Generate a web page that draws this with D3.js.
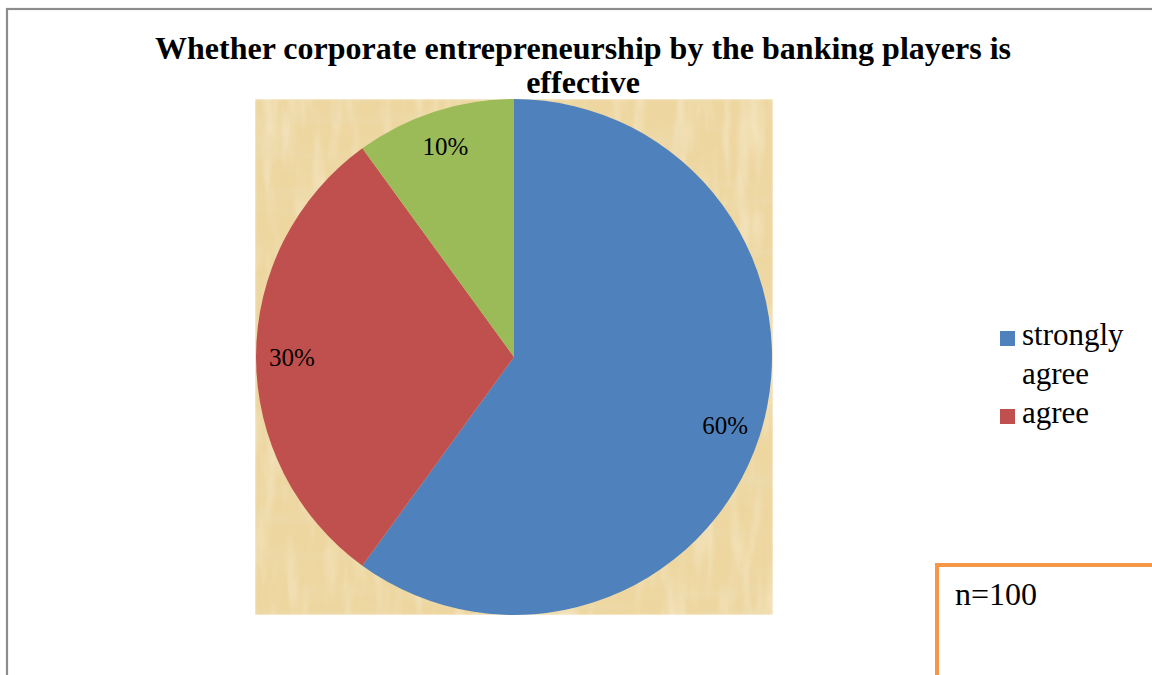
<!DOCTYPE html>
<html>
<head>
<meta charset="utf-8">
<script src="https://cdn.jsdelivr.net/npm/d3@7"></script>
<style>
  html, body { margin: 0; padding: 0; background: #fff; }
  svg { display: block; }
</style>
</head>
<body>
<script>
// ---- data ----
const categories = ["strongly agree", "agree", "disagree"];
const values = [60, 30, 10];
const labels = ["60%", "30%", "10%"];
const colors = ["#4F81BD", "#C0504D", "#9BBB59"];
const legendShown = ["strongly agree", "agree"];
const titleLines = ["Whether corporate entrepreneurship by the banking players is", "effective"];
const noteText = "n=100";

const FONT = "'Liberation Serif', 'Times New Roman', Times, serif";
const W = 1152, H = 675;
const svg = d3.select("body").append("svg").attr("width", W).attr("height", H);

// parchment texture
const defs = svg.append("defs");
const f = defs.append("filter").attr("id", "parch").attr("x", 0).attr("y", 0).attr("width", 1).attr("height", 1);
f.append("feTurbulence").attr("type", "fractalNoise").attr("baseFrequency", "0.01 0.08").attr("numOctaves", 3).attr("seed", 3).attr("result", "n1");
f.append("feColorMatrix").attr("in", "n1").attr("type", "matrix")
  .attr("values", "0 0 0 0 0.84  0 0 0 0 0.72  0 0 0 0 0.44  1.3 0 0 0 -0.55").attr("result", "c1");
f.append("feTurbulence").attr("type", "fractalNoise").attr("baseFrequency", "0.08 0.012").attr("numOctaves", 3).attr("seed", 11).attr("result", "n2");
f.append("feColorMatrix").attr("in", "n2").attr("type", "matrix")
  .attr("values", "0 0 0 0 0.97  0 0 0 0 0.89  0 0 0 0 0.70  1.2 0 0 0 -0.55").attr("result", "c2");
f.append("feFlood").attr("flood-color", "#EDD69F").attr("result", "base");
f.append("feMerge").attr("result", "m").selectAll("feMergeNode").data(["base", "c2", "c1"]).join("feMergeNode").attr("in", d => d);
f.append("feGaussianBlur").attr("in", "m").attr("stdDeviation", 0.8);

// outer frame
svg.append("rect").attr("x", 7).attr("y", 9).attr("width", W + 20).attr("height", H + 20)
  .attr("fill", "none").attr("stroke", "#8c8c8c").attr("stroke-width", 2.2);

// plot area
const plot = { x: 255, y: 99, w: 518, h: 516 };
svg.append("rect").attr("x", plot.x).attr("y", plot.y).attr("width", plot.w).attr("height", plot.h)
  .attr("fill", "#EDD69F").attr("filter", "url(#parch)");

// title
const title = svg.append("text").attr("text-anchor", "middle").attr("font-family", FONT)
  .attr("font-weight", "bold").attr("font-size", 32);
titleLines.forEach((t, i) => {
  title.append("tspan").attr("x", 583).attr("y", 59 + i * 34).text(t);
});

// pie
const cx = plot.x + plot.w / 2, cy = plot.y + plot.h / 2;
const R = 258;
const pie = d3.pie().sort(null).value(d => d)(values);
const arc = d3.arc().innerRadius(0).outerRadius(R);
const labelArc = d3.arc().innerRadius(222).outerRadius(222);
const g = svg.append("g").attr("transform", `translate(${cx},${cy})`);
g.selectAll("path").data(pie).join("path")
  .attr("d", arc).attr("fill", (d, i) => colors[i]);
g.selectAll("text").data(pie).join("text")
  .attr("transform", d => `translate(${labelArc.centroid(d)})`)
  .attr("text-anchor", "middle").attr("dy", "0.35em")
  .attr("font-family", FONT).attr("font-size", 25)
  .text((d, i) => labels[i]);

// legend
const legendY = d3.scaleOrdinal().domain(legendShown).range([345, 423]);
const lg = svg.append("g");
legendShown.forEach((name) => {
  const y = legendY(name);
  const ci = categories.indexOf(name);
  lg.append("rect").attr("x", 1000).attr("y", y - 14).attr("width", 15).attr("height", 15).attr("fill", colors[ci]);
  const words = name.split(" ");
  const t = lg.append("text").attr("font-family", FONT).attr("font-size", 31);
  words.forEach((w, j) => t.append("tspan").attr("x", 1022).attr("y", y + j * 39).text(w));
});

// note box
svg.append("rect").attr("x", 937).attr("y", 565).attr("width", 260).attr("height", 160)
  .attr("fill", "#fff").attr("stroke", "#F79646").attr("stroke-width", 4);
svg.append("text").attr("x", 955).attr("y", 605).attr("font-family", FONT).attr("font-size", 32).text(noteText);
</script>
</body>
</html>
